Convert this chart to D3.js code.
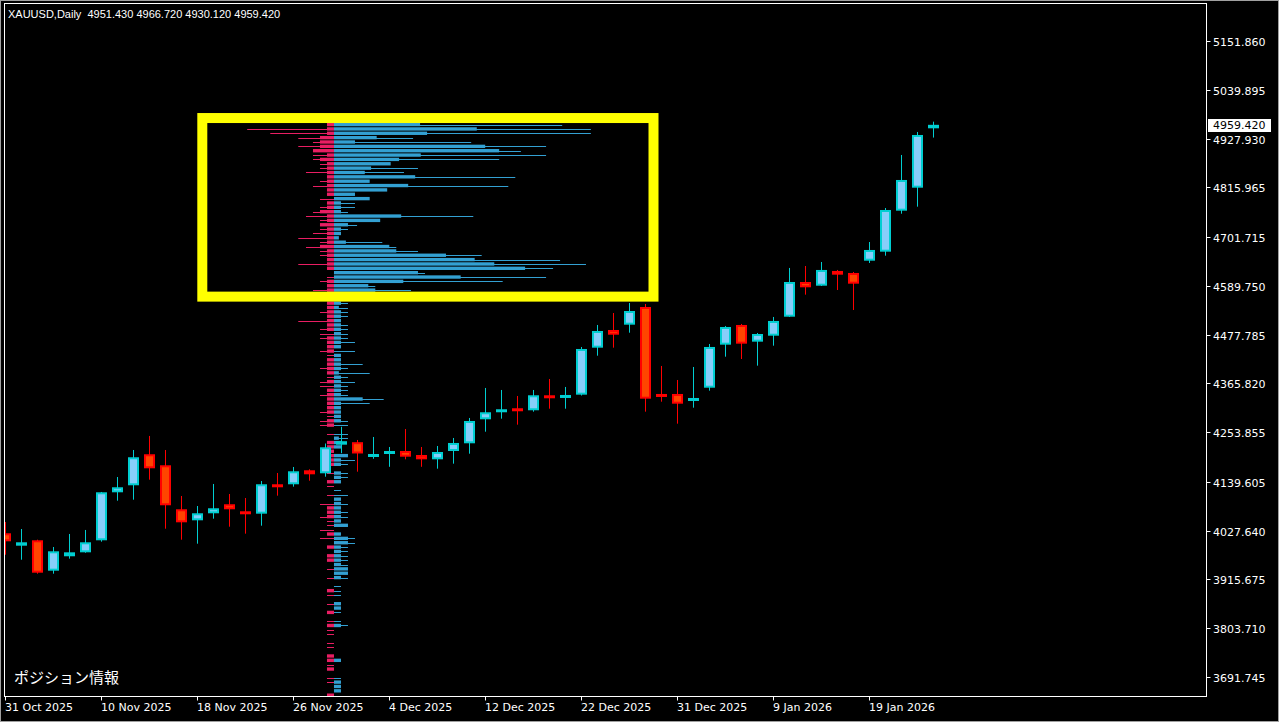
<!DOCTYPE html>
<html>
<head>
<meta charset="utf-8">
<script src="https://cdn.jsdelivr.net/npm/d3@7"></script>
<style>
  html, body { margin: 0; padding: 0; background: #000; overflow: hidden; }
</style>
</head>
<body>
<script>
const width = 1279, height = 722;

// ---- chart data ----
const chartTitle = "XAUUSD,Daily  4951.430 4966.720 4930.120 4959.420";
const panelLabel = "ポジション情報";

const dates = [
  "2025-10-31",
  "2025-11-03","2025-11-04","2025-11-05","2025-11-06","2025-11-07",
  "2025-11-10","2025-11-11","2025-11-12","2025-11-13","2025-11-14",
  "2025-11-17","2025-11-18","2025-11-19","2025-11-20","2025-11-21",
  "2025-11-24","2025-11-25","2025-11-26","2025-11-27","2025-11-28",
  "2025-12-01","2025-12-02","2025-12-03","2025-12-04","2025-12-05",
  "2025-12-08","2025-12-09","2025-12-10","2025-12-11","2025-12-12",
  "2025-12-15","2025-12-16","2025-12-17","2025-12-18","2025-12-19",
  "2025-12-22","2025-12-23","2025-12-24","2025-12-26","2025-12-29",
  "2025-12-30","2025-12-31","2026-01-02","2026-01-05","2026-01-06",
  "2026-01-07","2026-01-08","2026-01-09","2026-01-12","2026-01-13",
  "2026-01-14","2026-01-15","2026-01-16","2026-01-19","2026-01-20",
  "2026-01-21","2026-01-22","2026-01-23"
];

const open = [
  4021.7, 3993.2, 4005.6, 3935.8, 3968.9, 3978.0, 4005.6, 4115.8, 4131.9, 4203.1,
  4177.8, 4076.8, 4051.5, 4067.6, 4088.3, 4072.2, 4066.7, 4134.2, 4134.2, 4166.3,
  4159.4, 4225.1, 4230.8, 4201.4, 4206.5, 4210.6, 4201.4, 4191.5, 4210.6, 4228.3,
  4283.4, 4301.8, 4308.7, 4304.1, 4338.5, 4335.7, 4339.9, 4447.8, 4488.4, 4500.6,
  4541.2, 4341.5, 4341.5, 4326.1, 4355.9, 4454.7, 4499.9, 4461.6, 4475.3, 4518.9,
  4598.6, 4590.1, 4623.9, 4619.3, 4647.5, 4668.2, 4762.3, 4815.1, 4951.43
];
const high = [
  4047.6, 4031.5, 4007.0, 3990.2, 4020.1, 4029.3, 4116.5, 4150.9, 4212.9, 4245.1,
  4212.9, 4107.3, 4084.3, 4134.9, 4111.9, 4102.7, 4141.7, 4160.1, 4173.9, 4168.6,
  4227.8, 4266.2, 4235.9, 4242.8, 4219.8, 4261.1, 4219.8, 4222.1, 4240.5, 4286.4,
  4355.3, 4350.7, 4336.9, 4350.7, 4375.9, 4357.6, 4449.4, 4499.9, 4527.4, 4550.4,
  4548.1, 4405.8, 4373.6, 4403.5, 4456.3, 4497.6, 4502.2, 4481.5, 4518.3, 4630.8,
  4635.3, 4644.5, 4626.2, 4621.6, 4690.4, 4768.5, 4890.2, 4943.0, 4966.72
];
const low = [
  3972.5, 3961.0, 3928.9, 3928.9, 3963.4, 3977.0, 4002.4, 4096.5, 4098.8, 4144.7,
  4032.2, 4007.0, 3997.8, 4055.2, 4036.8, 4020.8, 4039.1, 4108.0, 4128.7, 4142.4,
  4151.6, 4205.6, 4163.1, 4192.7, 4174.3, 4191.5, 4174.3, 4170.0, 4181.5, 4204.4,
  4254.9, 4284.8, 4271.0, 4300.9, 4307.7, 4307.7, 4338.0, 4429.4, 4447.8, 4482.2,
  4300.9, 4323.8, 4273.3, 4310.0, 4349.1, 4427.1, 4421.8, 4406.5, 4452.4, 4518.3,
  4569.5, 4589.4, 4580.2, 4534.3, 4642.2, 4659.0, 4755.4, 4771.5, 4930.12
];
const close = [
  4003.3, 4001.0, 3931.2, 3980.3, 3978.0, 4001.0, 4115.8, 4127.3, 4196.2, 4170.9,
  4086.0, 4046.9, 4067.6, 4079.1, 4076.8, 4065.3, 4134.2, 4129.6, 4164.0, 4157.1,
  4219.1, 4233.1, 4204.9, 4203.7, 4210.6, 4197.5, 4191.5, 4208.3, 4229.0, 4279.5,
  4299.5, 4306.4, 4301.8, 4338.5, 4333.9, 4339.2, 4444.8, 4486.1, 4477.6, 4532.0,
  4330.7, 4337.6, 4319.2, 4332.3, 4449.4, 4495.3, 4457.0, 4479.2, 4509.1, 4598.6,
  4586.4, 4626.2, 4615.4, 4594.7, 4672.1, 4763.9, 4832.8, 4936.1, 4959.42
];

const priceTicks = [
  5151.860, 5039.895, 4927.930, 4815.965, 4701.715, 4589.750, 4477.785,
  4365.820, 4253.855, 4139.605, 4027.640, 3915.675, 3803.710, 3691.745
];

// position book: price buckets of 10, from 4965 downwards (one value per bucket)
const profileTop = 4965;
const profileStep = 10;
const longThick = [
  12.3, 20.4, 13.3, 6.1, 3, 21.6, 23.6, 12.4, 9.3, 8.1,
  5.3, 4.4, 11.6, 5.1, 10.6, 7.6, 3, 5.1, 1, 1,
  1, 9.6, 6.6, 2, 1, 1, 0.7, 1.7, 7.9, 8.9,
  16, 20.1, 22.9, 27.3, 12, 18.1, 9.9, 4.9, 5.9, 1,
  1, 1, 0.7, 1, 1, 1, 1, 1, 1, 1,
  1, 1, 0, 1, 1, 1, 1, 0.7, 1, 1,
  1, 1, 1, 4.1, 1, 1, 1, 1, 1, 0,
  0, 0, 0.7, 1, 1, 0, 2, 1, 1, 0,
  1, 1, 1, 0, 0, 0, 1, 1, 1, 1,
  1, 1, 2, 0, 1, 2, 2, 1, 1, 1,
  1, 1, 2, 2, 1, 0, 0, 0, 0, 0,
  1, 1, 0, 0, 0, 1, 0, 0, 0, 0,
  0, 0, 0, 1, 0, 0, 0, 0, 1, 1,
  1, 0
];
const longThin = [
  32.6, 36.7, 36.7, 11.3, 19.6, 30.3, 26.7, 30.3, 23.6, 0,
  12, 10, 25.9, 0, 24.9, 0, 0, 0, 3, 3,
  2, 19.9, 3, 3.3, 2, 0, 0, 6.9, 8.9, 12,
  21.1, 32.3, 36, 31.3, 13, 30.3, 24.1, 5.9, 11, 0,
  2, 2, 2, 2, 2, 0, 2, 2, 2, 2,
  3, 0, 3, 0, 0, 4.1, 2, 5.1, 2, 3,
  2, 2, 2, 7.1, 5.1, 0, 0, 0, 2, 2,
  0, 2, 2, 0, 0, 0, 0, 3, 2, 0,
  2, 2, 0, 0, 1, 2, 0, 2, 0, 2,
  2, 0, 0, 0, 0, 3, 3, 2, 2, 2,
  2, 2, 0, 0, 2, 0, 1, 1, 1, 0,
  0, 0, 1, 0, 1, 2, 0, 0, 0, 0,
  0, 0, 0, 0, 0, 0, 0, 1, 0, 1,
  0, 0
];
const shortThick = [
  1, 1, 1, 2, 2, 2, 3, 1, 2, 1,
  1, 1, 1, 1, 1, 1, 1, 0, 1, 1,
  2, 1, 1, 2, 1, 1, 1, 1, 2, 1,
  1, 1, 1, 1, 0, 0, 1, 1, 1, 1,
  1, 1, 1, 1, 1, 1, 1, 1, 0, 1,
  1, 1, 1, 0, 1, 1, 1, 1, 0, 1,
  0, 1, 1, 1, 1, 1, 1, 0, 1, 1,
  0, 0, 0, 1, 1, 1, 1, 1, 1, 0,
  0, 0, 1, 0, 0, 0, 0, 0, 1, 1,
  1, 0, 0, 0, 1, 0, 0, 1, 0, 1,
  1, 0, 0, 0, 0, 0, 0, 1, 0, 0,
  0, 0, 1, 0, 0, 1, 0, 0, 0, 0,
  0, 0, 1, 1, 0, 1, 0, 0, 0, 0,
  0, 1
];
const shortThin = [
  0, 12.4, 9.1, 5.1, 3, 5.1, 3, 3, 3, 2,
  2, 4, 1, 2, 3, 0, 1, 2, 1, 2,
  3, 4, 2, 2, 2, 3, 5.1, 2, 4, 2,
  2, 1, 5.1, 1, 0, 1, 2, 1, 3, 1,
  0, 1, 1, 2, 1, 5.1, 1, 2, 2, 2,
  1, 1, 2, 1, 1, 1, 2, 1, 1, 2,
  2, 1, 2, 1, 1, 1, 2, 1, 2, 2,
  0, 1, 0, 0, 1, 1, 0, 1, 0, 0,
  1, 0, 0, 1, 0, 1, 0, 2, 1, 0,
  2, 1, 1, 2, 0, 2, 0, 0, 0, 0,
  1, 0, 1, 0, 1, 0, 0, 0, 1, 0,
  1, 0, 0, 0, 1, 0, 1, 1, 0, 1,
  1, 0, 1, 0, 1, 1, 0, 1, 1, 0,
  0, 0
];
// bar position the book is anchored at, and the highlighted zone
const profileAnchor = 20.53;
const zoneBars = [12.3, 40.5];
const zonePrices = [4975, 4565];

// ---- layout ----
const plot = { left: 4.5, right: 1206.5, top: 3.5, bottom: 696.5 };

const svg = d3.select("body").append("svg")
  .attr("width", width)
  .attr("height", height)
  .style("display", "block");

svg.append("rect").attr("width", width).attr("height", height).attr("fill", "#000");

// window edge
svg.append("rect")
  .attr("x", 0.5).attr("y", 0.5)
  .attr("width", width - 1).attr("height", height - 1)
  .attr("fill", "none").attr("stroke", "#a0a0a0").attr("stroke-width", 1);

const xScale = d3.scaleLinear().domain([0, dates.length - 1]).range([5.5, 5.5 + 16 * (dates.length - 1)]);
const yScale = d3.scaleLinear().domain([3691.745, 5151.86]).range([677, 41]);

svg.append("clipPath").attr("id", "plotclip")
  .append("rect")
  .attr("x", plot.left + 0.5).attr("y", plot.top + 0.5)
  .attr("width", plot.right - plot.left - 1).attr("height", plot.bottom - plot.top - 1);

const g = svg.append("g").attr("clip-path", "url(#plotclip)");

// ---- position book histogram ----
const blue = "#33a0d2", pink = "#e91e63";
const bookX = d3.scaleLinear().domain([0, 1]).range([0, 7]);
const x0 = xScale(profileAnchor);

const rows = longThick.map((v, i) => {
  const hi = profileTop - i * profileStep;
  const lo = hi - profileStep;
  return { y1: yScale(hi), y2: yScale(lo), lt: v, lw: longThin[i], st: shortThick[i], sw: shortThin[i] };
});

const book = g.append("g");

// thin lines
book.selectAll(".lthin").data(rows.filter(d => d.lw > 0)).join("rect")
  .attr("x", x0).attr("width", d => bookX(d.lw))
  .attr("y", d => Math.round((d.y1 + d.y2) / 2)).attr("height", 1)
  .attr("fill", blue);
book.selectAll(".sthin").data(rows.filter(d => d.sw > 0)).join("rect")
  .attr("x", d => x0 - bookX(d.sw)).attr("width", d => bookX(d.sw))
  .attr("y", d => Math.round((d.y1 + d.y2) / 2)).attr("height", 1)
  .attr("fill", pink);

// thick bars
book.selectAll(".lthick").data(rows.filter(d => d.lt > 0)).join("rect")
  .attr("x", x0).attr("width", d => bookX(d.lt))
  .attr("y", d => d.y1 + 0.5).attr("height", d => d.y2 - d.y1 - 1)
  .attr("fill", blue);
book.selectAll(".sthick").data(rows.filter(d => d.st > 0)).join("rect")
  .attr("x", d => x0 - bookX(d.st)).attr("width", d => bookX(d.st))
  .attr("y", d => d.y1 + 0.5).attr("height", d => d.y2 - d.y1 - 1)
  .attr("fill", pink);

// ---- candles ----
const candles = dates.map((d, i) => ({ i, o: open[i], h: high[i], l: low[i], c: close[i] }));
const isUp = d => d.c >= d.o;

g.selectAll(".wick").data(candles).join("line")
  .attr("x1", d => xScale(d.i)).attr("x2", d => xScale(d.i))
  .attr("y1", d => yScale(d.h)).attr("y2", d => yScale(d.l))
  .attr("stroke", d => isUp(d) ? "#00ced1" : "#ff0000")
  .attr("stroke-width", 1);

g.selectAll(".body").data(candles).join("rect")
  .attr("x", d => xScale(d.i) - 4.5).attr("width", 9)
  .attr("y", d => Math.min(yScale(d.o), yScale(d.c)) + 1)
  .attr("height", d => Math.max(1, Math.abs(yScale(d.o) - yScale(d.c)) - 2))
  .attr("fill", d => isUp(d) ? "#87cefa" : "#ff4500")
  .attr("stroke", d => isUp(d) ? "#00ced1" : "#ff0000")
  .attr("stroke-width", 2);

// ---- highlighted zone ----
g.append("rect")
  .attr("x", xScale(zoneBars[0])).attr("y", yScale(zonePrices[0]))
  .attr("width", xScale(zoneBars[1]) - xScale(zoneBars[0]))
  .attr("height", yScale(zonePrices[1]) - yScale(zonePrices[0]))
  .attr("fill", "none").attr("stroke", "#ffff00").attr("stroke-width", 10);

// ---- frame ----
svg.append("rect")
  .attr("x", plot.left).attr("y", plot.top)
  .attr("width", plot.right - plot.left).attr("height", plot.bottom - plot.top)
  .attr("fill", "none").attr("stroke", "#ffffff").attr("stroke-width", 1);

// ---- price axis ----
const yAxis = svg.append("g");
priceTicks.forEach(v => {
  const y = Math.round(yScale(v)) + 0.5;
  yAxis.append("line")
    .attr("x1", plot.right).attr("x2", plot.right + 4)
    .attr("y1", y).attr("y2", y)
    .attr("stroke", "#fff").attr("stroke-width", 1);
  yAxis.append("text")
    .attr("x", 1213).attr("y", y + 4)
    .attr("fill", "#fff")
    .style("font", "11px 'DejaVu Sans', sans-serif")
    .text(d3.format(".3f")(v));
});

// current price tag
const last = close[close.length - 1];
const ly = yScale(last);
yAxis.append("rect")
  .attr("x", 1208).attr("y", Math.round(ly) - 6).attr("width", 63).attr("height", 13)
  .attr("fill", "#fff");
yAxis.append("text")
  .attr("x", 1213).attr("y", Math.round(ly) + 4)
  .attr("fill", "#000")
  .style("font", "11px 'DejaVu Sans', sans-serif")
  .text(d3.format(".3f")(last));

// ---- time axis ----
const parse = d3.timeParse("%Y-%m-%d");
const fmt = d3.timeFormat("%-d %b %Y");
const xAxis = svg.append("g");
dates.forEach((d, i) => {
  if (i % 6 !== 0) return;
  const x = xScale(i);
  xAxis.append("line")
    .attr("x1", x).attr("x2", x)
    .attr("y1", plot.bottom).attr("y2", plot.bottom + 4)
    .attr("stroke", "#fff").attr("stroke-width", 1);
  xAxis.append("text")
    .attr("x", x - 0.5).attr("y", 711)
    .attr("fill", "#fff")
    .style("font", "11px 'DejaVu Sans', sans-serif")
    .text(fmt(parse(d)));
});

// ---- labels ----
svg.append("text")
  .attr("x", 8).attr("y", 18)
  .attr("fill", "#fff")
  .attr("xml:space", "preserve")
  .style("white-space", "pre")
  .style("font", "11px 'Liberation Sans', Arial, sans-serif")
  .text(chartTitle);

svg.append("text")
  .attr("x", 14).attr("y", 683)
  .attr("fill", "#fff")
  .style("font", "15px 'Noto Sans CJK JP', sans-serif")
  .text(panelLabel);
</script>
</body>
</html>
